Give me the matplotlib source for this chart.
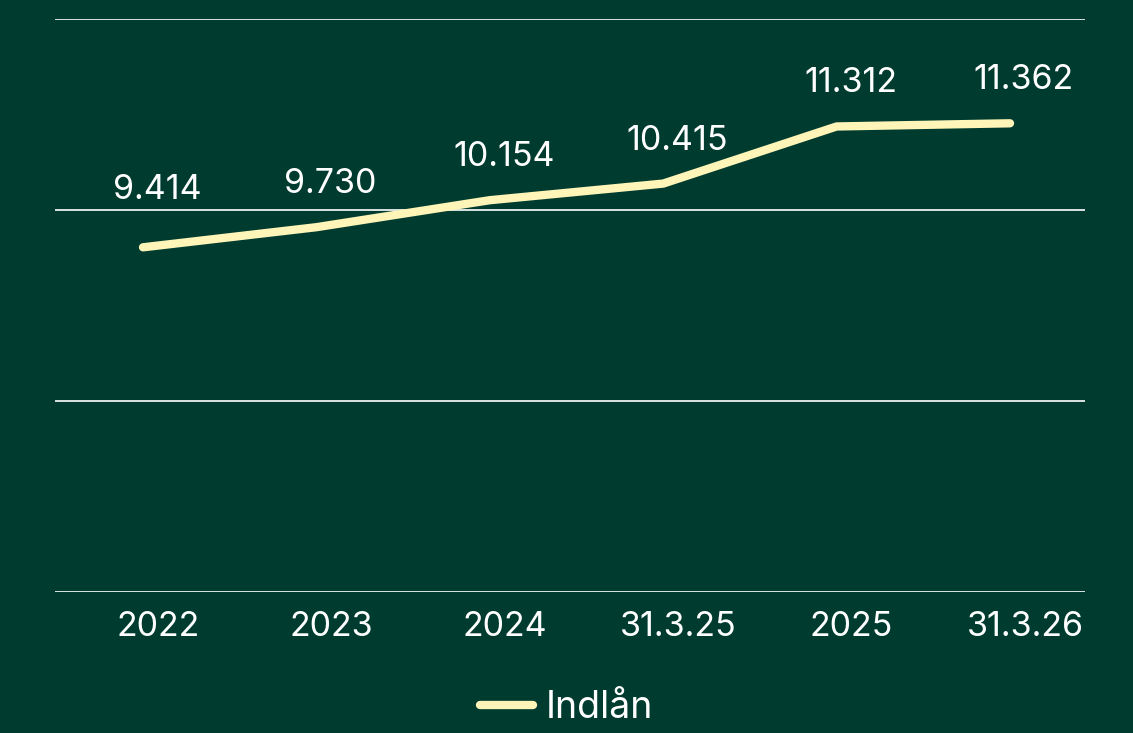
import matplotlib
matplotlib.use("Agg")
import matplotlib.pyplot as plt
import matplotlib.transforms as mtrans
from matplotlib.ticker import FixedLocator

# data
labels = ['2022', '2023', '2024', '31.3.25', '2025', '31.3.26']
indlaan = [9414, 9730, 10154, 10415, 11312, 11362]
value_text = ['9.414', '9.730', '10.154', '10.415', '11.312', '11.362']
grid_vals = [4000, 7000, 10000, 13000]

bg = '#003b2f'
line_col = '#fff5b8'

plt.rcParams['font.family'] = ['Inter', 'DejaVu Sans']

fig = plt.figure(figsize=(11.33, 7.33), dpi=100, facecolor=bg)
ax = fig.add_axes([55/1133, 1-592/733, 1030/1133, 573/733], facecolor=bg)

x = list(range(len(labels)))
ax.plot(x, indlaan, color=line_col, lw=6, solid_capstyle='round',
        solid_joinstyle='round', label='Indlån', zorder=3)

ax.set_xlim(-0.5075, 5.4325)
ax.set_ylim(4000, 13000)

# værdier over punkterne - løft label hvis den rammer en gridlinje
for xi, v, t in zip(x, indlaan, value_text):
    dy = 31
    y_pix = ax.transData.transform((xi, v))[1] + dy / 72 * 100
    for g in grid_vals:
        gp = ax.transData.transform((0, g))[1]
        if abs(gp - y_pix) < 14:
            dy += 10
    ax.annotate(t, (xi, v), xytext=(10, dy), textcoords='offset points',
                ha='center', va='center', color='white', fontsize=24.5)

ax.yaxis.set_major_locator(FixedLocator(grid_vals))
ax.grid(axis='y', color='white', lw=1.2)
ax.set_axisbelow(True)
ax.set_yticklabels([])
ax.tick_params(axis='y', length=0)
ax.set_xticks(x)
ax.set_xticklabels(labels, color='white', fontsize=24.5)
ax.tick_params(axis='x', length=0, pad=14)
shift = mtrans.ScaledTranslation(15/100, 0, fig.dpi_scale_trans)
for lab in ax.get_xticklabels():
    lab.set_transform(lab.get_transform() + shift)
for s in ax.spines.values():
    s.set_visible(False)

leg = fig.legend(loc='center', bbox_to_anchor=(0.5, 1-708/733), frameon=False,
                 fontsize=27, handlelength=1.4, handletextpad=0.35)
for t in leg.get_texts():
    t.set_color('white')

fig.savefig('out.png', dpi=100, facecolor=bg)
